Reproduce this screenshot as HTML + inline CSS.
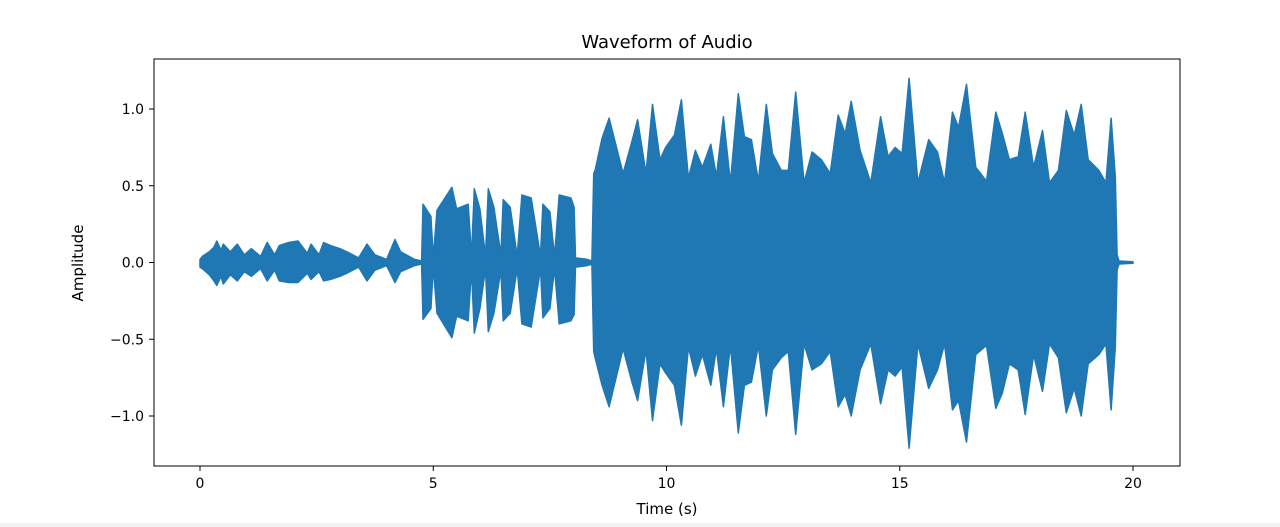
<!DOCTYPE html>
<html><head><meta charset="utf-8"><style>
html,body{margin:0;padding:0;background:#fff;}
svg{display:block;font-family:"DejaVu Sans","Liberation Sans",sans-serif;}
</style></head><body>
<svg id="chart" width="1280" height="527" viewBox="0 0 1280 527">
<rect x="0" y="0" width="1280" height="527" fill="#fff"/>
<rect x="0" y="523" width="1280" height="4" fill="#f3f3f3"/>
<text x="667" y="48" font-size="18" text-anchor="middle" fill="#000">Waveform of Audio</text>
<g id="plot"></g>
<g id="xaxis"></g>
<g id="yaxis"></g>
<rect x="154" y="59" width="1026" height="407" fill="none" stroke="#000" stroke-width="1"/>
<text x="667" y="514" font-size="15" text-anchor="middle" fill="#000">Time (s)</text>
<text x="83" y="263" font-size="15" text-anchor="middle" fill="#000" transform="rotate(-90 83 263)">Amplitude</text>
</svg>
<script>
const times=[0.0,0.05,0.2,0.3,0.36,0.45,0.5,0.65,0.8,0.95,1.1,1.3,1.44,1.6,1.7,1.9,2.1,2.3,2.38,2.55,2.65,2.8,3.0,3.15,3.4,3.58,3.75,4.0,4.18,4.3,4.6,4.75,4.78,4.95,5.0,5.08,5.4,5.5,5.75,5.82,5.88,6.0,6.12,6.18,6.3,6.45,6.5,6.65,6.8,6.9,7.1,7.3,7.35,7.5,7.6,7.7,7.95,8.02,8.05,8.3,8.4,
8.44,8.47,8.62,8.77,9.07,9.26,9.38,9.56,9.70,9.86,9.98,10.17,10.32,10.47,10.62,10.77,10.95,11.07,11.22,11.37,11.54,11.67,11.82,11.97,12.14,12.27,12.46,12.61,12.77,12.95,13.12,13.32,13.51,13.68,13.83,13.96,14.15,14.38,14.59,14.75,14.90,15.05,15.20,15.39,15.62,15.81,15.96,16.13,16.26,16.43,16.63,16.86,17.06,17.20,17.35,17.54,17.69,17.87,18.06,18.21,18.40,18.57,18.74,18.89,19.04,19.27,19.42,19.53,19.62,19.66,19.70,20.0];
const upper=[0.02,0.04,0.07,0.1,0.14,0.08,0.12,0.07,0.12,0.05,0.09,0.04,0.13,0.05,0.11,0.13,0.14,0.06,0.12,0.05,0.13,0.11,0.09,0.07,0.03,0.12,0.05,0.02,0.15,0.07,0.02,0.01,0.38,0.3,0.03,0.34,0.49,0.35,0.38,0.04,0.48,0.35,0.04,0.48,0.36,0.05,0.41,0.36,0.04,0.44,0.42,0.04,0.38,0.33,0.04,0.44,0.42,0.36,0.03,0.02,0.01,
0.58,0.6,0.81,0.94,0.58,0.79,0.93,0.58,1.03,0.67,0.75,0.83,1.06,0.55,0.73,0.62,0.77,0.56,0.95,0.52,1.10,0.82,0.80,0.53,1.03,0.71,0.60,0.60,1.11,0.52,0.72,0.67,0.58,0.96,0.84,1.05,0.73,0.52,0.95,0.69,0.75,0.71,1.20,0.52,0.80,0.72,0.52,0.98,0.88,1.16,0.62,0.53,0.98,0.84,0.67,0.69,0.98,0.62,0.86,0.52,0.60,0.99,0.83,1.03,0.67,0.60,0.52,0.94,0.56,0.05,0.01,0.005];
const lower=[-0.03,-0.04,-0.08,-0.12,-0.15,-0.09,-0.14,-0.08,-0.12,-0.06,-0.09,-0.04,-0.12,-0.05,-0.12,-0.13,-0.13,-0.07,-0.11,-0.06,-0.12,-0.11,-0.09,-0.07,-0.03,-0.12,-0.05,-0.02,-0.13,-0.06,-0.02,-0.01,-0.37,-0.3,-0.03,-0.33,-0.49,-0.35,-0.38,-0.04,-0.46,-0.3,-0.04,-0.45,-0.33,-0.05,-0.38,-0.33,-0.04,-0.4,-0.42,-0.04,-0.36,-0.3,-0.04,-0.4,-0.38,-0.34,-0.03,-0.02,-0.01,
-0.58,-0.62,-0.8,-0.94,-0.56,-0.78,-0.9,-0.57,-1.03,-0.66,-0.72,-0.8,-1.06,-0.55,-0.74,-0.6,-0.8,-0.56,-0.94,-0.54,-1.11,-0.8,-0.78,-0.54,-1.0,-0.7,-0.62,-0.58,-1.12,-0.53,-0.7,-0.66,-0.58,-0.94,-0.86,-1.0,-0.7,-0.53,-0.92,-0.7,-0.74,-0.68,-1.21,-0.53,-0.82,-0.7,-0.53,-0.96,-0.9,-1.17,-0.6,-0.54,-0.95,-0.85,-0.66,-0.7,-0.99,-0.6,-0.84,-0.53,-0.62,-0.98,-0.82,-1.0,-0.66,-0.6,-0.53,-0.96,-0.55,-0.05,-0.01,-0.005];
const xTicks=[0,5,10,15,20];
const yTicks=[-1.0,-0.5,0.0,0.5,1.0];
const yTickLabels=["\u22121.0","\u22120.5","0.0","0.5","1.0"];

const NS="http://www.w3.org/2000/svg";
const xs=t=>200+t*46.65;
const ys=v=>262.5-v*153.5;
const plot=document.getElementById('plot');
let pts=[];
for(let i=0;i<times.length;i++)pts.push(xs(times[i]).toFixed(1)+','+ys(upper[i]).toFixed(1));
for(let i=times.length-1;i>=0;i--)pts.push(xs(times[i]).toFixed(1)+','+ys(lower[i]).toFixed(1));
const poly=document.createElementNS(NS,'polygon');
poly.setAttribute('points',pts.join(' '));
poly.setAttribute('fill','#1f77b4');
poly.setAttribute('stroke','#1f77b4');
poly.setAttribute('stroke-width','1.5');
poly.setAttribute('stroke-linejoin','round');


plot.appendChild(poly);

const xa=document.getElementById('xaxis');
xTicks.forEach(t=>{
  const l=document.createElementNS(NS,'line');
  l.setAttribute('x1',xs(t));l.setAttribute('x2',xs(t));l.setAttribute('y1',466);l.setAttribute('y2',471);
  l.setAttribute('stroke','#000');
  
  
  xa.appendChild(l);
  const tx=document.createElementNS(NS,'text');
  tx.setAttribute('x',xs(t));tx.setAttribute('y',488);tx.setAttribute('font-size','14');tx.setAttribute('text-anchor','middle');
  tx.textContent=String(t);
  
  
  xa.appendChild(tx);
});
const ya=document.getElementById('yaxis');
yTicks.forEach((v,i)=>{
  const l=document.createElementNS(NS,'line');
  l.setAttribute('x1',149);l.setAttribute('x2',154);l.setAttribute('y1',ys(v));l.setAttribute('y2',ys(v));
  l.setAttribute('stroke','#000');
  
  
  ya.appendChild(l);
  const tx=document.createElementNS(NS,'text');
  tx.setAttribute('x',144);tx.setAttribute('y',ys(v)+5);tx.setAttribute('font-size','14');tx.setAttribute('text-anchor','end');
  tx.textContent=yTickLabels[i];
  
  
  ya.appendChild(tx);
});
</script>
</body></html>
